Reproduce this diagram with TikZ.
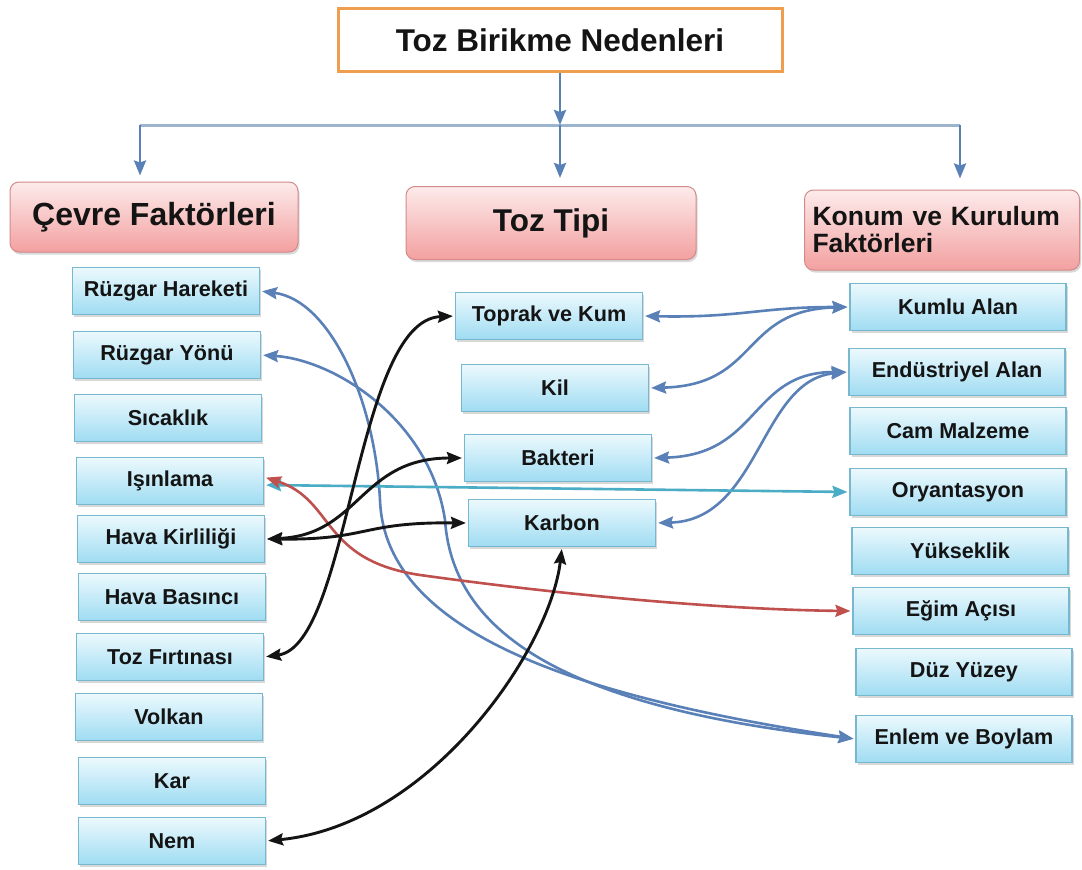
\documentclass[tikz,border=0pt]{standalone}
\usepackage{fontspec}
\setmainfont{Liberation Sans}
\usepackage{tikz}
\usetikzlibrary{positioning,arrows.meta,shadows,calc}
\definecolor{ink}      {HTML}{141414}
\definecolor{orangeln} {HTML}{EE9E4F}
\definecolor{rosetop}  {HTML}{FDEBEB}
\definecolor{rosebot}  {HTML}{F3A0A0}
\definecolor{roseln}   {HTML}{D58A8A}
\definecolor{icetop}   {HTML}{ECF9FD}
\definecolor{icebot}   {HTML}{9FDCF2}
\definecolor{iceln}    {HTML}{78B8CF}
\definecolor{linkblue} {HTML}{5A80B8}
\definecolor{busblue}  {HTML}{9DB4CE}
\definecolor{linkteal} {HTML}{4BACC6}
\definecolor{linkred}  {HTML}{C0504D}
\tikzset{
  >={Stealth[length=15pt,width=12pt,inset=2pt]},
  every node/.style={text=ink},
  % --- nodes
  root/.style = {draw=orangeln, line width=3pt, fill=white, minimum width=444pt,
                 minimum height=63pt, font=\fontsize{31.5}{33}\selectfont\bfseries},
  grp/.style  = {rounded corners=9pt, draw=roseln, line width=1pt, top color=rosetop,
                 bottom color=rosebot, font=\fontsize{32}{34}\selectfont\bfseries,
                 drop shadow={shadow xshift=1.5pt, shadow yshift=-2.5pt, opacity=0.3}},
  itm/.style  = {draw=iceln, line width=1.2pt, top color=icetop, bottom color=icebot,
                 minimum width=187pt, minimum height=47pt,
                 font=\fontsize{21.6}{23}\selectfont\bfseries,
                 drop shadow={shadow xshift=1.5pt, shadow yshift=-2pt, opacity=0.3}},
  itmr/.style = {itm, minimum width=216pt},
  % --- edges
  e/.style    = {line width=2.6pt, shorten <=2pt, shorten >=2pt},
  eb/.style   = {e, <->, draw=linkblue},
  ek/.style   = {e, <->, draw=ink, line width=2.9pt},
  et/.style   = {e, <->, draw=linkteal},
  er/.style   = {e, <->, draw=linkred},
  bus/.style  = {line width=3pt, draw=busblue},
  down/.style = {->, line width=2.6pt, draw=linkblue},
}

\begin{document}
\begin{tikzpicture}[x=1pt, y=-1pt]
  \fill[white] (0,0) rectangle (1082,870);
  \useasboundingbox (0,0) rectangle (1082,870);

  \node[root] (root) at (560,40) {Toz Birikme Nedenleri};

  \node[grp, minimum width=288pt, minimum height=70pt] (hcv) at (154,217) {Çevre Faktörleri};
  \node[grp, minimum width=290pt, minimum height=73pt, font=\fontsize{31.5}{33}\selectfont\bfseries]
        (htt) at (551,223) {Toz Tipi};
  \node[grp, minimum width=275pt, minimum height=80pt, text width=259pt, align=left,
        font=\fontsize{26.5}{27}\selectfont\bfseries] (hkn) at (942,230) {Konum ve Kurulum\\Faktörleri};

  % bus
  \coordinate (busL) at (140,125);
  \coordinate (busM) at (560,125);
  \coordinate (busR) at (960,125);
  \draw[down] (root.south) -- (busM);
  \draw[bus] (busL) -- (busR);
  \draw[down, shorten >=6pt] (busL) -- (busL |- hcv.north);
  \draw[down, shorten >=8pt] (busM) -- (busM |- htt.north);
  \draw[down, shorten >=11pt] (busR) -- (busR |- hkn.north);

  \node[itm] (cv1)  at (166,291) {Rüzgar Hareketi};
  \node[itm] (cv2)  at (167,355) {Rüzgar Yönü};
  \node[itm] (cv3)  at (168,418) {Sıcaklık};
  \node[itm] (cv4)  at (170,481) {Işınlama};
  \node[itm] (cv5)  at (171,539) {Hava Kirliliği};
  \node[itm] (cv6)  at (172,597) {Hava Basıncı};
  \node[itm] (cv7)  at (170,657) {Toz Fırtınası};
  \node[itm] (cv8)  at (169,717) {Volkan};
  \node[itm] (cv9)  at (172,781) {Kar};
  \node[itm] (cv10) at (172,841) {Nem};

  \node[itm] (tt1) at (549,316) {Toprak ve Kum};
  \node[itm] (tt2) at (555,388) {Kil};
  \node[itm] (tt3) at (558,458) {Bakteri};
  \node[itm] (tt4) at (562,523) {Karbon};

  \node[itmr] (kn1) at (958,307) {Kumlu Alan};
  \node[itmr] (kn2) at (957,372) {Endüstriyel Alan};
  \node[itmr] (kn3) at (958,431) {Cam Malzeme};
  \node[itmr] (kn4) at (958,492) {Oryantasyon};
  \node[itmr] (kn5) at (960,551) {Yükseklik};
  \node[itmr] (kn6) at (961,611) {Eğim Açısı};
  \node[itmr] (kn7) at (964,672) {Düz Yüzey};
  \node[itmr] (kn8) at (964,739) {Enlem ve Boylam};

  % links
  \draw[eb] (cv1.east) .. controls (330,300) and (375,400) .. (380,500)
            .. controls (385,640) and (600,700) .. (kn8.west);
  \draw[eb] (cv2.east) .. controls (335,360) and (430,420) .. (445,520)
            .. controls (452,620) and (540,705) .. (kn8.west);
  \draw[eb] (tt1.east) .. controls (740,318) and (760,307) .. (kn1.west);
  \draw[eb] (tt2.east) .. controls (760,385) and (740,310) .. (kn1.west);
  \draw[eb] (tt3.east) .. controls (760,455) and (750,372) .. (kn2.west);
  \draw[eb] (tt4.east) .. controls (760,520) and (760,380) .. (kn2.west);

  \draw[et] ([yshift=-4pt]cv4.east) -- (kn4.west);
  \draw[er] ([yshift=4pt]cv4.east) .. controls (335,500) and (320,560) .. (420,575)
            .. controls (600,600) and (750,610) .. (kn6.west);

  \draw[ek] (cv5.east) .. controls (360,535) and (360,458) .. (tt3.west);
  \draw[ek] (cv5.east) .. controls (370,540) and (360,522) .. (tt4.west);
  \draw[ek] (cv7.east) .. controls (350,645) and (355,320) .. (tt1.west);
  \draw[ek] (cv10.east) .. controls (430,825) and (550,650) .. (tt4.south);
\end{tikzpicture}
\end{document}
